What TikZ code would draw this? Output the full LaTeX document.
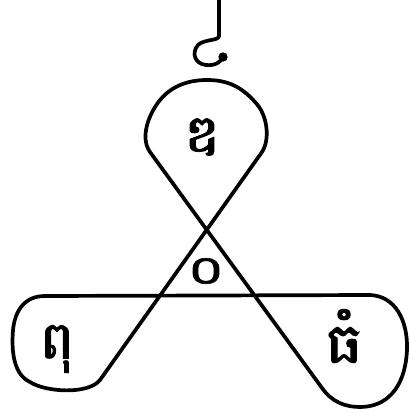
\documentclass[tikz,border=0pt]{standalone}
\usepackage{fontspec}
\newfontfamily\khmer[Script=Khmer,FakeBold=1.5]{Battambang}
\begin{document}
\begin{tikzpicture}[x=1pt,y=-1pt,
  ink/.style={line width=3.7pt,line join=round,line cap=round},
  glyph/.style={font=\khmer\fontsize{52}{52}\selectfont,inner sep=0pt}]
\useasboundingbox (0,0) rectangle (411,412);
\fill[white] (0,0) rectangle (411,412);
% trefoil (one closed stroke)
\draw[ink] (100,380) -- (262,152)
  .. controls (270,140) and (268,115) .. (255,102)
  .. controls (240,85) and (225,80) .. (207,80)
  .. controls (185,80) and (170,88) .. (160,100)
  .. controls (148,115) and (140,138) .. (150,152)
  -- (322,388)
  .. controls (332,402) and (345,407) .. (360,407)
  .. controls (385,407) and (405,390) .. (407,350)
  .. controls (408,320) and (395,296) .. (370,295)
  -- (45,296)
  .. controls (25,296) and (15,310) .. (13,330)
  .. controls (11,355) and (15,375) .. (30,382)
  .. controls (45,392) and (88,395) .. (100,380) -- cycle;
% hook mark at the top
\coordinate (hooktop) at (219,0);
\coordinate (hookdot) at (223,57);
\draw[ink] (hooktop) -- (219,36) .. controls (219,41) and (204,39) .. (198,45)
  .. controls (191,53) and (195,64) .. (206,65) .. controls (215,66) and (221,62) .. (hookdot);
\fill (hookdot) circle (4.7);
% letters
\node[glyph,xscale=1.2] (top) at (202,137) {ឌ};
\node[glyph,xscale=1.15] (left) at (57,349) {ពុ};
\node[glyph,font=\khmer\fontsize{56}{56}\selectfont,xscale=1.15] (right) at (344,336) {ធំ};
\node[glyph,font=\khmer\fontsize{40}{40}\selectfont,xscale=1.45] (mid) at (206,271) {០};
\end{tikzpicture}
\end{document}
